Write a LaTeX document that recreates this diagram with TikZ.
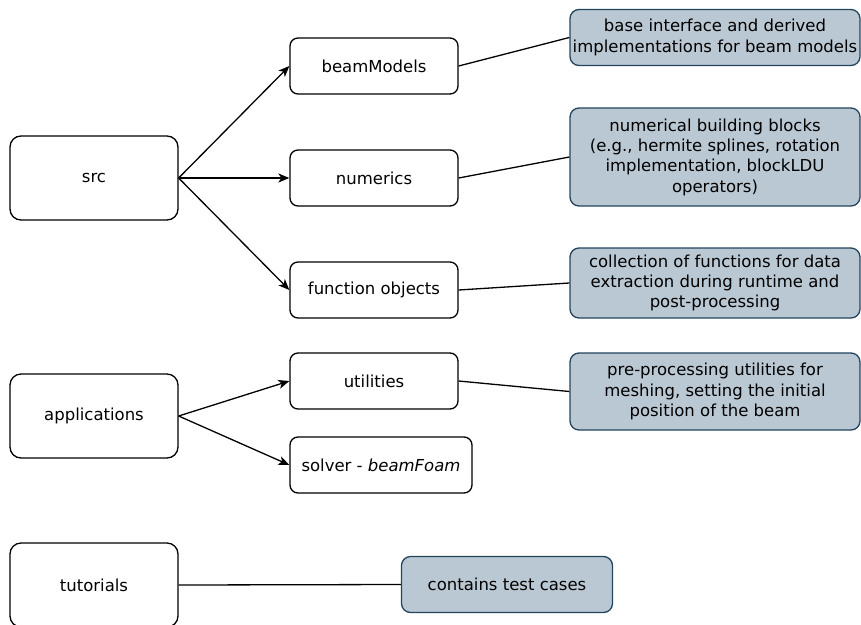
\documentclass[tikz,border=0pt]{standalone}
\usepackage{fontspec}
\setmainfont{DejaVu Sans}
\usetikzlibrary{arrows.meta}
\definecolor{bluegrey}{HTML}{BAC8D3}
\definecolor{bluestroke}{HTML}{23445D}
\tikzset{
  box/.style={draw=black, line width=1.3pt, rounded corners=8pt, fill=white, inner sep=0pt, align=center, font=\fontsize{16.5}{20.3}\selectfont},
  note/.style={draw=bluestroke, fill=bluegrey, line width=1.3pt, rounded corners=9pt, inner sep=0pt, align=center, font=\fontsize{16.5}{20.3}\selectfont},
  arr/.style={line width=1.3pt, -{Stealth[length=11pt,width=9pt,inset=3pt]}},
  ln/.style={line width=1.3pt}
}
\begin{document}
\begin{tikzpicture}[x=1pt,y=-1pt]
\useasboundingbox (0,0) rectangle (861,624);
\begin{scope}
\clip (0,0) rectangle (861,624);
% left boxes
\node[box, minimum width=168pt, minimum height=84pt, rounded corners=11pt] (src) at (94,178) {src};
\node[box, minimum width=168pt, minimum height=84pt, rounded corners=11pt] (app) at (94,416) {applications};
\node[box, minimum width=168pt, minimum height=84pt, rounded corners=11pt] (tut) at (94,585) {tutorials};
% middle boxes
\node[box, minimum width=168pt, minimum height=56pt] (beam) at (374,66) {beamModels};
\node[box, minimum width=168pt, minimum height=56pt] (num) at (374,178) {numerics};
\node[box, minimum width=168pt, minimum height=56pt] (fo) at (374,290) {function objects};
\node[box, minimum width=168pt, minimum height=56pt] (util) at (374,381) {utilities};
\node[box, minimum width=182pt, minimum height=56pt] (solv) at (381,465) {solver - \textit{beamFoam}};
% notes
\node[note, minimum width=290pt, minimum height=56pt] (n1) at (715,37.5) {base interface and derived\\implementations for beam models};
\node[note, minimum width=290pt, minimum height=98pt] (n2) at (715,157) {numerical building blocks\\(e.g., hermite splines, rotation\\implementation, blockLDU\\operators)};
\node[note, minimum width=290pt, minimum height=70pt] (n3) at (715,283) {collection of functions for data\\extraction during runtime and\\post-processing};
\node[note, minimum width=290pt, minimum height=77pt] (n4) at (715,391.5) {pre-processing utilities for\\meshing, setting the initial\\position of the beam};
\node[note, minimum width=211pt, minimum height=56pt] (n5) at (507,584.5) {contains test cases};
% connectors
\draw[arr] (src.east) -- (beam.west);
\draw[arr] (src.east) -- (num.west);
\draw[arr] (src.east) -- (fo.west);
\draw[arr] (app.east) -- (util.west);
\draw[arr] (app.east) -- (solv.west);
\draw[ln] (beam.east) -- (n1.west);
\draw[ln] (num.east) -- (n2.west);
\draw[ln] (fo.east) -- (n3.west);
\draw[ln] (util.east) -- (n4.west);
\draw[ln] (tut.east) -- (n5.west);
\end{scope}
\end{tikzpicture}
\end{document}
